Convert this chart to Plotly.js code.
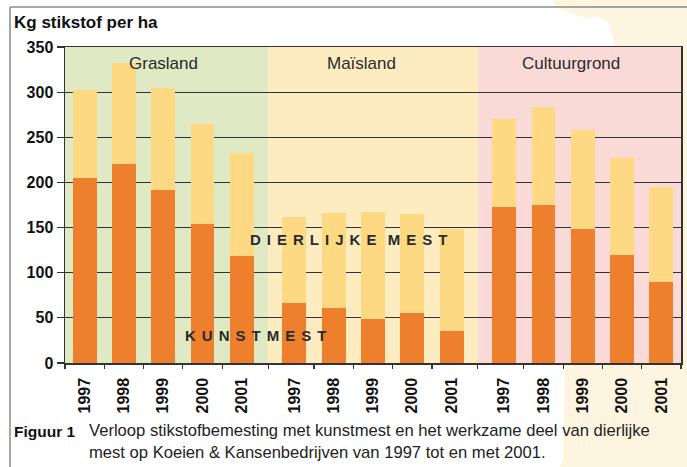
<!DOCTYPE html>
<html>
<head>
<meta charset="utf-8">
<script src="https://cdn.plot.ly/plotly-3.0.1.min.js"></script>
<style>html,body{margin:0;padding:0;background:#fff;}#chart{width:687px;height:467px;}</style>
</head>
<body>
<div id="chart"></div>
<script>
// ---- data ----
const groups = ["Grasland", "Maïsland", "Cultuurgrond"];
const years = ["1997", "1998", "1999", "2000", "2001"];
const kunstmestGras = [205, 220, 192, 154, 118];
const dierlijkGras  = [97, 112, 113, 111, 115];
const kunstmestMais = [67, 61, 49, 55, 35];
const dierlijkMais  = [95, 105, 118, 110, 113];
const kunstmestCult = [173, 175, 148, 120, 90];
const dierlijkCult  = [97, 108, 110, 107, 105];
const yTicks = [0, 50, 100, 150, 200, 250, 300, 350];

// ---- layout helpers ----
const W = 687, H = 467;
const M = {l: 65, r: 6, t: 47, b: 104};
const PW = W - M.l - M.r, PH = H - M.t - M.b;
const px = x => (x - M.l) / PW;
const py = y => (H - M.b - y) / PH;

const GAP = 1.34;             // extra spacing between groups (in bar slots)
const STEP = years.length - 1 + GAP;
const kunst = [kunstmestGras, kunstmestMais, kunstmestCult];
const dier = [dierlijkGras, dierlijkMais, dierlijkCult];

const xs = [], labels = [], kv = [], dv = [];
groups.forEach((g, gi) => {
  years.forEach((y, yi) => {
    xs.push(gi * STEP + yi);
    labels.push(y);
    kv.push(kunst[gi][yi]);
    dv.push(dier[gi][yi]);
  });
});
const xmin = -0.5, xmax = (groups.length - 1) * STEP + years.length - 0.5;

// group boundaries (midpoints between groups)
const bounds = [xmin];
for (let gi = 1; gi < groups.length; gi++) bounds.push(((gi - 1) * STEP + years.length - 1 + gi * STEP) / 2);
bounds.push(xmax);

// tick marks between bars
const tickPos = [xmin];
for (let i = 1; i < xs.length; i++) tickPos.push((xs[i - 1] + xs[i]) / 2);
tickPos.push(xmax);

const bandColors = ["#DFE9C4", "#FDECC0", "#F9DAD7"];
const FONT = "Liberation Sans, Arial, Helvetica, sans-serif";
const DARK = "#2b2b2b";

const shapes = [];
// page decoration (cream)
shapes.push({type: "path", xref: "paper", yref: "paper", layer: "below",
  path: `M ${px(553)},${py(0)} L ${px(687)},${py(0)} L ${px(687)},${py(467)} L ${px(560)},${py(467)} L ${px(563)},${py(458)} L ${px(565)},${py(364)} L ${px(681)},${py(364)} L ${px(681)},${py(47)} L ${px(616)},${py(47)} L ${px(607)},${py(20)} L ${px(595)},${py(16)} L ${px(590)},${py(19)} L ${px(557)},${py(8)} Z`,
  fillcolor: "#FEF5E0", line: {width: 0}});
// frame lines
shapes.push({type: "line", xref: "paper", yref: "paper", x0: px(10), x1: px(687), y0: py(7), y1: py(7), line: {color: "#8a8a8a", width: 1.5}});
shapes.push({type: "line", xref: "paper", yref: "paper", x0: px(10), x1: px(10), y0: py(7), y1: py(467), line: {color: "#8a8a8a", width: 1.5}});
// background bands
groups.forEach((g, gi) => {
  shapes.push({type: "rect", xref: "x", yref: "paper", layer: "below",
    x0: bounds[gi], x1: bounds[gi + 1], y0: 0, y1: 1, fillcolor: bandColors[gi], line: {width: 0}});
});

const annotations = [];
groups.forEach((g, gi) => {
  annotations.push({text: g, xref: "x", yref: "paper", x: gi * STEP + 2 + (gi === 0 ? 0 : -0.3), y: py(63),
    showarrow: false, xanchor: "center", yanchor: "middle", font: {family: FONT, size: 17, color: DARK}});
});
annotations.push({text: "Kg stikstof per ha", xref: "paper", yref: "paper", x: px(12), y: py(22),
  showarrow: false, xanchor: "left", yanchor: "middle", font: {family: FONT, size: 17, color: "#111", weight: "bold"}});
const sp = s => s.split(" ").map(w => w.split("").join("\u2009\u2009")).join("\u00a0\u00a0\u2009");
annotations.push({text: sp("DIERLIJKE MEST"), xref: "paper", yref: "paper", x: px(348), y: py(240),
  showarrow: false, xanchor: "center", yanchor: "middle", font: {family: FONT, size: 15, color: DARK, weight: "bold"}});
annotations.push({text: sp("KUNSTMEST"), xref: "paper", yref: "paper", x: px(255), y: py(335),
  showarrow: false, xanchor: "center", yanchor: "middle", font: {family: FONT, size: 15, color: DARK, weight: "bold"}});
annotations.push({text: "Figuur 1", xref: "paper", yref: "paper", x: px(12), y: py(431),
  showarrow: false, xanchor: "left", yanchor: "middle", font: {family: FONT, size: 15.5, color: "#111", weight: "bold"}});
annotations.push({text: "Verloop stikstofbemesting met kunstmest en het werkzame deel van dierlijke<br>mest op Koeien &amp; Kansenbedrijven van 1997 tot en met 2001.",
  xref: "paper", yref: "paper", x: px(87), y: py(441), align: "left",
  showarrow: false, xanchor: "left", yanchor: "middle", font: {family: FONT, size: 16.6, color: "#222"}});

const traces = [
  {type: "bar", x: xs, y: kv, width: 0.61, marker: {color: "#EE802D", line: {width: 0}}, name: "Kunstmest", hoverinfo: "skip"},
  {type: "bar", x: xs, y: dv, width: 0.61, marker: {color: "#FDD984", line: {width: 0}}, name: "Dierlijke mest", hoverinfo: "skip"},
  {type: "scatter", x: [xmin, xmax], y: [0, 0], xaxis: "x2", mode: "none", showlegend: false, hoverinfo: "skip"}
];

const layout = {
  width: W, height: H,
  margin: M,
  paper_bgcolor: "#ffffff",
  plot_bgcolor: "rgba(0,0,0,0)",
  barmode: "stack",
  showlegend: false,
  font: {family: FONT, color: DARK},
  xaxis: {
    range: [xmin, xmax], tickvals: xs, ticktext: labels, tickangle: -90,
    ticks: "outside", ticklen: 7, tickcolor: "rgba(0,0,0,0)",
    tickfont: {family: FONT, size: 16, color: "#111", weight: "bold"},
    showgrid: false, zeroline: false, showline: true, linecolor: "#333", linewidth: 1.5,
    mirror: true, automargin: false, fixedrange: true
  },
  xaxis2: {
    overlaying: "x", anchor: "y", side: "bottom", range: [xmin, xmax], tickvals: tickPos,
    ticks: "outside", ticklen: 5, tickcolor: "#333", tickwidth: 1.2, showticklabels: false,
    showgrid: false, zeroline: false, showline: false, automargin: false
  },
  yaxis: {
    range: [0, 350], tickvals: yTicks, ticks: "outside", ticklen: 7, tickcolor: "#333", tickwidth: 1.2,
    tickfont: {family: FONT, size: 16, color: "#111", weight: "bold"},
    showgrid: true, gridcolor: "#333", gridwidth: 1, zeroline: false,
    showline: true, linecolor: "#333", linewidth: 1.5, mirror: true, automargin: false, fixedrange: true
  },
  shapes: shapes,
  annotations: annotations
};

Plotly.newPlot("chart", traces, layout, {staticPlot: true, displayModeBar: false});
</script>
</body>
</html>
